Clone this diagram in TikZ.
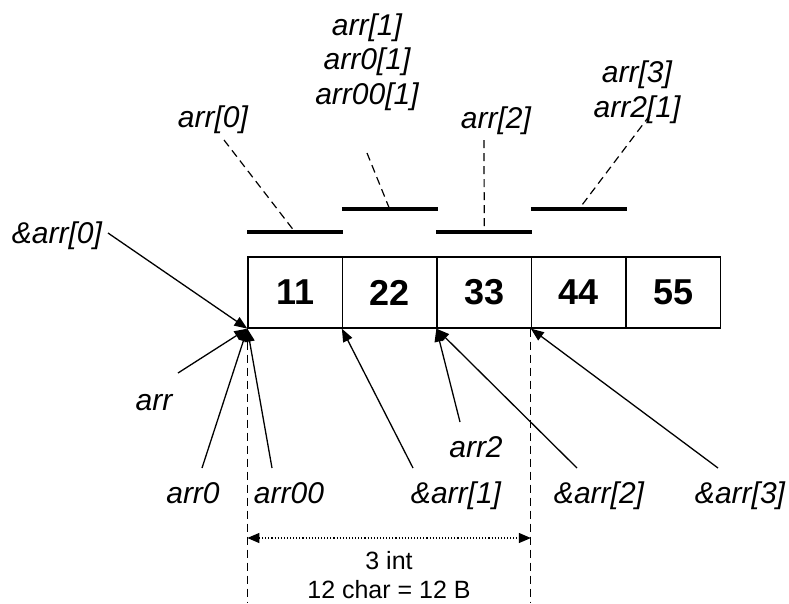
\documentclass[tikz,border=0pt]{standalone}
\usepackage{fontspec}
\setmainfont{Liberation Sans}
\usetikzlibrary{arrows.meta}
\begin{document}
\begin{tikzpicture}[x=1pt,y=-1pt,
  cell/.style={draw,line width=1.3pt,minimum width=94.5pt,minimum height=71pt,inner sep=0pt,
    font=\fontsize{36}{42}\selectfont\bfseries},
  lbl/.style={inner sep=0pt,font=\fontsize{30}{34.5}\selectfont\itshape,align=center},
  note/.style={inner sep=0pt,font=\fontsize{25}{28.5}\selectfont,align=center},
  bar/.style={line width=4pt},
  lead/.style={line width=1.2pt,dash pattern=on 8pt off 5pt},
  ptr/.style={-{Triangle[length=13pt,width=10pt]},line width=1.3pt},
  guide/.style={line width=1.2pt,dash pattern=on 8pt off 5pt},
  span/.style={{Triangle[length=12pt,width=10pt]}-{Triangle[length=12pt,width=10pt]},line width=1.1pt,dotted}]
\useasboundingbox (0,0) rectangle (789,603);
% cells
\node[cell] (c1) at (295.25,292.5) {11};
\node[cell] (c2) at (389.75,292.5) {22};
\node[cell] (c3) at (484.25,292.5) {33};
\node[cell] (c4) at (578.75,292.5) {44};
\node[cell] (c5) at (673.25,292.5) {55};
% bars
\draw[bar] ([yshift=24pt]c1.north west) -- coordinate[midway] (m0) ([yshift=24pt]c1.north east);
\draw[bar] ([yshift=47pt]c2.north west) -- coordinate[midway] (m1) ([yshift=47pt]c2.north east);
\draw[bar] ([yshift=24pt]c3.north west) -- coordinate[midway] (m2) ([yshift=24pt]c3.north east);
\draw[bar] ([yshift=47pt]c4.north west) -- coordinate[midway] (m3) ([yshift=47pt]c4.north east);
% top labels (base = baseline of last line)
\node[lbl,anchor=base] (a0) at (213,127) {arr[0]};
\node[lbl,anchor=base] (a1) at (367,104) {arr[1]\\arr0[1]\\arr00[1]};
\node[lbl,anchor=base] (a2) at (496,128) {arr[2]};
\node[lbl,anchor=base] (a3) at (637,117) {arr[3]\\arr2[1]};
\draw[lead] ([shift={(11,13)}]a0.base) -- (m0);
\draw[lead] ([shift={(0,49)}]a1.base) -- (m1);
\draw[lead] ([shift={(-12,12)}]a2.base) -- (m2);
\draw[lead] ([shift={(13,-2)}]a3.base) -- (m3);
% &arr[0]
\node[lbl,anchor=base] (p0) at (57,243) {\&arr[0]};
\draw[ptr] ([shift={(51,-10)}]p0.base) -- (c1.south west);
% bottom labels
\node[lbl,anchor=base] (r) at (154,410) {arr};
\node[lbl,anchor=base] (r0) at (193,503) {arr0};
\node[lbl,anchor=base] (r00) at (289,503) {arr00};
\node[lbl,anchor=base] (p1) at (456,503) {\&arr[1]};
\node[lbl,anchor=base] (r2) at (476,457) {arr2};
\node[lbl,anchor=base] (p2) at (599,503) {\&arr[2]};
\node[lbl,anchor=base] (p3) at (740,503) {\&arr[3]};
\draw[ptr] ([shift={(24,-37)}]r.base) -- (c1.south west);
\draw[ptr] ([shift={(9,-35)}]r0.base) -- (c1.south west);
\draw[ptr] ([shift={(-17,-35)}]r00.base) -- (c1.south west);
\draw[ptr] ([shift={(-43,-35)}]p1.base) -- (c2.south west);
\draw[ptr] ([shift={(-16,-35)}]r2.base) -- (c3.south west);
\draw[ptr] ([shift={(-22,-35)}]p2.base) -- (c3.south west);
\draw[ptr] ([shift={(-22,-35)}]p3.base) -- (c4.south west);
% guides and span
\coordinate (g1) at (c1.south west |- 0,603);
\coordinate (g2) at (c4.south west |- 0,603);
\draw[guide] (c1.south west) -- (g1);
\draw[guide] (c4.south west) -- (g2);
\coordinate (s1) at (c1.south west |- 0,538);
\coordinate (s2) at (c4.south west |- 0,538);
\draw[span] (s1) -- (s2);
\node[note,anchor=base] (n) at (389,598) {3 int\\12 char = 12 B};
\end{tikzpicture}
\end{document}
